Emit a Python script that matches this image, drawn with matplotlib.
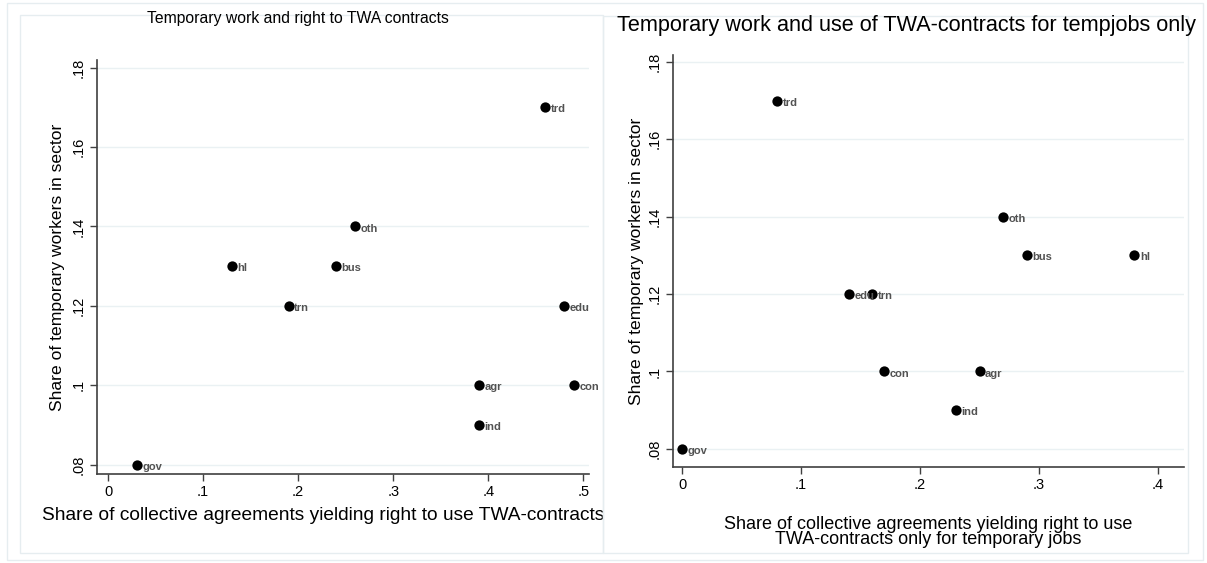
import matplotlib.pyplot as plt
from matplotlib.patches import Rectangle

plt.rcParams['font.family'] = ['Liberation Sans', 'DejaVu Sans']

# sector codes and values, left panel (right to TWA contracts)
sectors_l = ["gov", "hl", "trn", "bus", "oth", "agr", "ind", "trd", "edu", "con"]
right_twa = [0.03, 0.13, 0.19, 0.24, 0.26, 0.39, 0.39, 0.46, 0.48, 0.49]
temp_l = [0.08, 0.13, 0.12, 0.13, 0.14, 0.10, 0.09, 0.17, 0.12, 0.10]

# right panel (TWA contracts only for temporary jobs)
sectors_r = ["gov", "trd", "edu", "trn", "con", "ind", "agr", "oth", "bus", "hl"]
temp_only = [0.00, 0.08, 0.14, 0.16, 0.17, 0.23, 0.25, 0.27, 0.29, 0.38]
temp_r = [0.08, 0.17, 0.12, 0.12, 0.10, 0.09, 0.10, 0.14, 0.13, 0.13]

yticks = [0.08, 0.10, 0.12, 0.14, 0.16, 0.18]
ytick_labels = [".08", ".1", ".12", ".14", ".16", ".18"]

W, H = 1207, 563
fig = plt.figure(figsize=(W / 100, H / 100), dpi=100)


def box(x0, y0, x1, y1, color):
    # rectangle given in pixel coords (origin top-left)
    r = Rectangle((x0 / W, 1 - y1 / H), (x1 - x0) / W, (y1 - y0) / H,
                  transform=fig.transFigure, fill=False, edgecolor=color, lw=1)
    fig.add_artist(r)


box(7, 3, 1203, 560, "#e6edf0")
box(20, 15, 603, 553, "#e6edf0")
box(603, 16, 1188, 553, "#e6edf0")


def panel(rect, xs, ys, names, xticks, xlabels, xlim, ylim, title, title_xy, title_size,
          xlabel, xlab_size, xlab_pos, ylab_x):
    ax = fig.add_axes(rect)
    for y in yticks:
        ax.axhline(y, color="#eaf1f3", lw=1, zorder=0)
    ax.scatter(xs, ys, s=55, color="black", zorder=3, linewidths=0)
    for x, y, n in zip(xs, ys, names):
        ax.annotate(n, (x, y), xytext=(4, -1.5), textcoords="offset points",
                    fontsize=8, fontweight="bold", color="#525252",
                    ha="left", va="center", zorder=4)
    ax.set_xlim(xlim)
    ax.set_ylim(ylim)
    ax.set_xticks(xticks)
    ax.set_xticklabels(xlabels, fontsize=10.5)
    ax.set_yticks(yticks)
    ax.set_yticklabels(ytick_labels, fontsize=10.5, rotation=90, va="center")
    ax.tick_params(direction="out", length=5, width=1, color="#404040", pad=3)
    for s in ["top", "right"]:
        ax.spines[s].set_visible(False)
    for s in ["left", "bottom"]:
        ax.spines[s].set_color("#404040")
        ax.spines[s].set_linewidth(1.2)
    ax.set_xlabel(xlabel, fontsize=xlab_size, linespacing=0.9)
    ax.xaxis.set_label_coords(*xlab_pos)
    ax.set_ylabel("Share of temporary workers in sector", fontsize=12.6)
    ax.yaxis.set_label_coords(ylab_x, 0.5)
    fig.text(title_xy[0] / W, 1 - title_xy[1] / H, title, fontsize=title_size,
             ha="left", va="center")
    return ax


panel([97 / W, 1 - 474 / H, 492 / W, 414 / H], right_twa, temp_l, sectors_l,
      [0, 0.1, 0.2, 0.3, 0.4, 0.5], ["0", ".1", ".2", ".3", ".4", ".5"],
      (-0.0116, 0.506), (0.0777, 0.1819),
      "Temporary work and right to TWA contracts", (147, 18), 11.3,
      "Share of collective agreements yielding right to use TWA-contracts", 13.8,
      (0.459, -0.08), -0.066)

panel([673 / W, 1 - 467 / H, 511 / W, 412 / H], temp_only, temp_r, sectors_r,
      [0, 0.1, 0.2, 0.3, 0.4], ["0", ".1", ".2", ".3", ".4"],
      (-0.0076, 0.4218), (0.0753, 0.1818),
      "Temporary work and use of TWA-contracts for tempjobs only", (617, 25), 15.6,
      "Share of collective agreements yielding right to use\nTWA-contracts only for temporary jobs", 13.0,
      (0.5, -0.118), -0.056)

fig.savefig("out.png", dpi=100)
